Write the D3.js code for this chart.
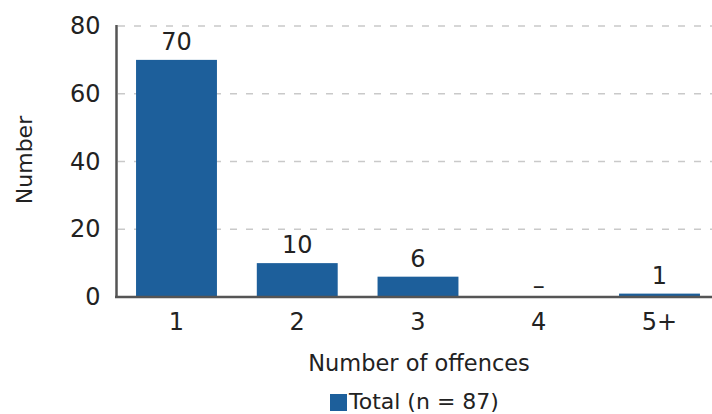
<!DOCTYPE html>
<html>
<head>
<meta charset="utf-8">
<script src="https://cdn.jsdelivr.net/npm/d3@7"></script>
<style>
  html, body { margin: 0; padding: 0; background: #fff; }
  svg { display: block; font-family: "DejaVu Sans", sans-serif; }
</style>
</head>
<body>
<svg id="chart" width="712" height="414"></svg>
<script>
// Offence counts per person
const categories = ["1", "2", "3", "4", "5+"];
const totals = [70, 10, 6, 0, 1];
const valueLabels = ["70", "10", "6", "–", "1"];
const yTicks = [0, 20, 40, 60, 80];
const legendLabel = "Total (n = 87)";
const xTitle = "Number of offences";
const yTitle = "Number";

const svg = d3.select("#chart");
const barColor = "#1d5f9b";
const textColor = "#222";

const x = d3.scaleBand()
  .domain(categories)
  .range([116, 720])
  .paddingInner(0.33)
  .paddingOuter(0.166);

const y = d3.scaleLinear()
  .domain([0, 80])
  .range([297, 26]);

// Dashed horizontal gridlines
svg.append("g")
  .selectAll("line")
  .data(yTicks.filter(d => d > 0))
  .join("line")
  .attr("x1", 118)
  .attr("x2", 712)
  .attr("y1", d => y(d))
  .attr("y2", d => y(d))
  .attr("stroke", "#c9c9c9")
  .attr("stroke-width", 1.5)
  .attr("stroke-dasharray", "7,9");

// Bars
svg.append("g")
  .selectAll("rect")
  .data(categories.map((c, i) => ({ c, v: totals[i] })))
  .join("rect")
  .attr("x", d => x(d.c))
  .attr("width", x.bandwidth())
  .attr("y", d => y(d.v))
  .attr("height", d => y(0) - y(d.v))
  .attr("fill", barColor);

// Value labels above bars (a dash marks an empty category)
svg.append("g")
  .selectAll("text")
  .data(categories.map((c, i) => ({ c, v: totals[i], t: valueLabels[i] })))
  .join("text")
  .attr("x", d => x(d.c) + x.bandwidth() / 2)
  .attr("y", d => y(d.v) - 10)
  .attr("dy", d => d.t === "–" ? 7 : 0)
  .attr("text-anchor", "middle")
  .attr("font-size", 24)
  .attr("fill", textColor)
  .text(d => d.t);

// Y axis
const yAxis = svg.append("g")
  .attr("transform", "translate(116.5,0)")
  .call(d3.axisLeft(y).tickValues(yTicks).tickSize(0).tickPadding(16));
yAxis.select(".domain").attr("stroke", "#555").attr("stroke-width", 2.5)
  .attr("d", `M0,${y(80) - 1}V${y(0)}`);
yAxis.selectAll("text")
  .attr("font-size", 24)
  .attr("font-family", "DejaVu Sans, sans-serif")
  .attr("fill", textColor);

// X axis
const xAxis = svg.append("g")
  .attr("transform", `translate(0,${y(0)})`)
  .call(d3.axisBottom(x).tickSize(0).tickPadding(16));
xAxis.select(".domain").attr("stroke", "#555").attr("stroke-width", 2.5)
  .attr("d", "M115,0H712");
xAxis.selectAll("text")
  .attr("font-size", 24)
  .attr("font-family", "DejaVu Sans, sans-serif")
  .attr("fill", textColor);

// Axis titles
svg.append("text")
  .attr("x", 419)
  .attr("y", 371)
  .attr("text-anchor", "middle")
  .attr("font-size", 22.5)
  .attr("fill", textColor)
  .text(xTitle);

svg.append("text")
  .attr("transform", "translate(32,160) rotate(-90)")
  .attr("text-anchor", "middle")
  .attr("font-size", 22)
  .attr("fill", textColor)
  .text(yTitle);

// Legend
const legend = svg.append("g");
legend.append("rect")
  .attr("x", 330).attr("y", 394)
  .attr("width", 17).attr("height", 17)
  .attr("fill", barColor);
legend.append("text")
  .attr("x", 349).attr("y", 409)
  .attr("font-size", 22)
  .attr("fill", textColor)
  .text(legendLabel);
</script>
</body>
</html>
